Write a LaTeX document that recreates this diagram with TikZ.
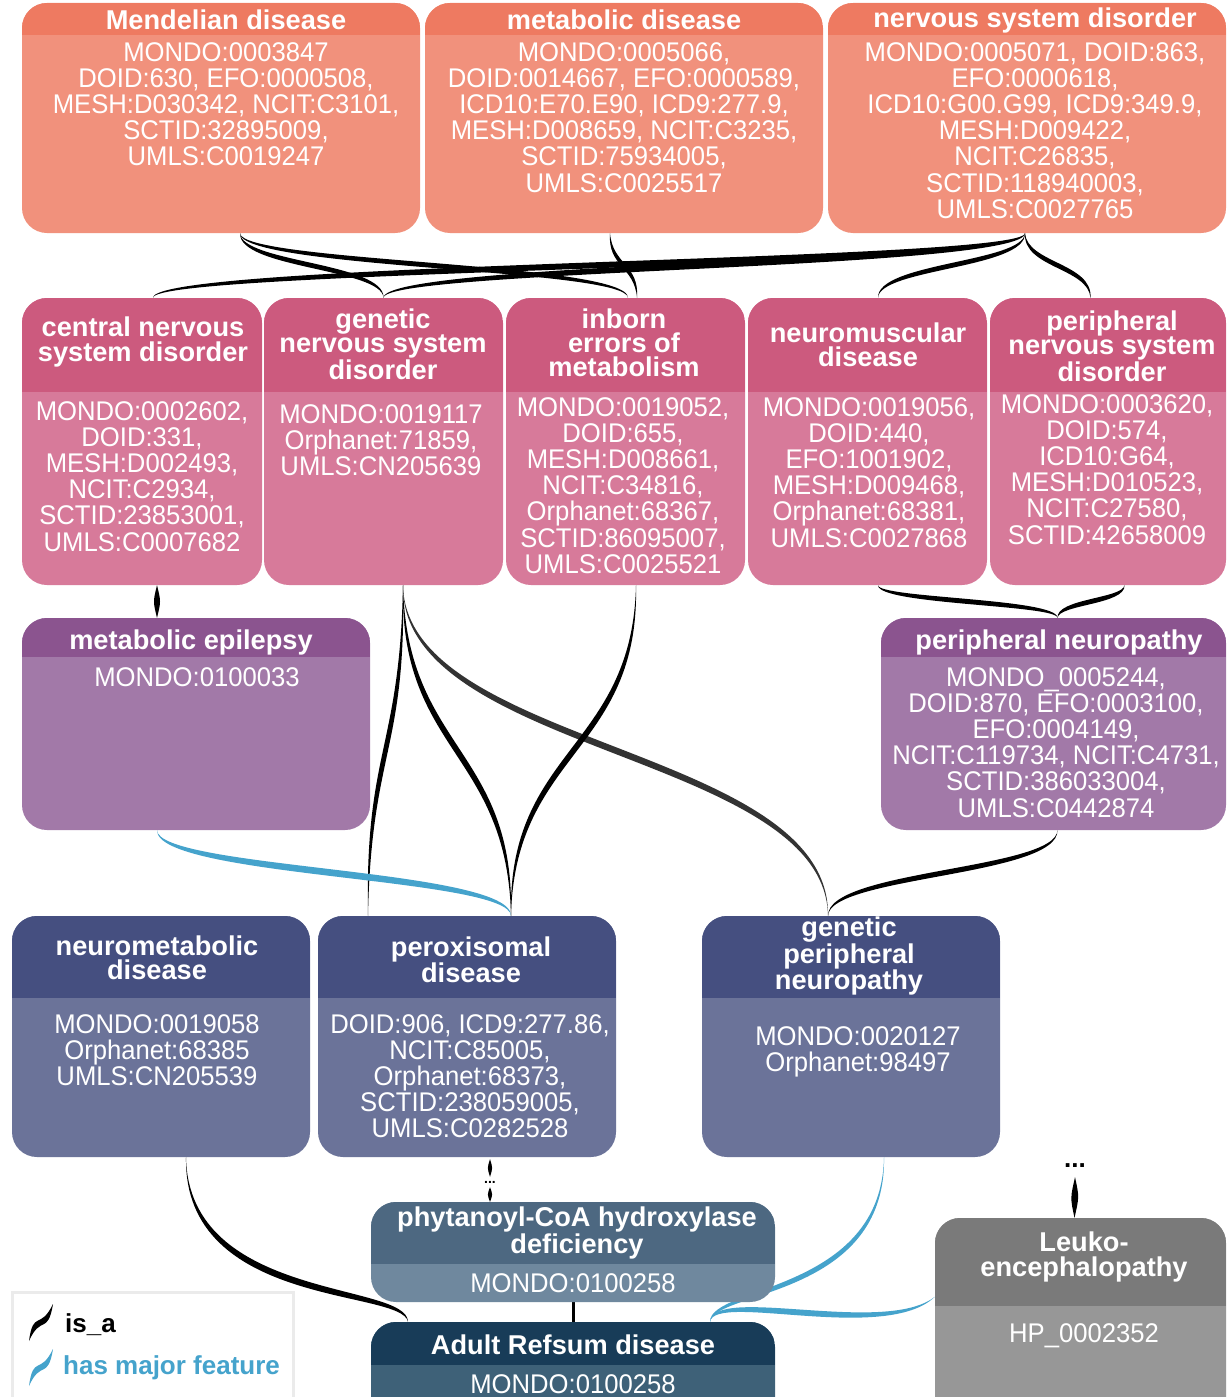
\documentclass[tikz,border=0pt]{standalone}
\usepackage{fontspec}
\setmainfont{Liberation Sans}
\newfontfamily\bodyf{Liberation Sans}[FakeStretch=0.95]
\usetikzlibrary{calc,fit}
\pgfdeclarelayer{bg}
\pgfsetlayers{bg,main}
\definecolor{sH}{HTML}{EE7A61}\definecolor{sB}{HTML}{F1917C}
\definecolor{pH}{HTML}{CC5A7E}\definecolor{pB}{HTML}{D77A9A}
\definecolor{vH}{HTML}{8B548F}\definecolor{vB}{HTML}{A279A8}
\definecolor{nH}{HTML}{454F80}\definecolor{nB}{HTML}{6B7399}
\definecolor{tH}{HTML}{4D6881}\definecolor{tB}{HTML}{6F889E}
\definecolor{dH}{HTML}{183C58}\definecolor{dB}{HTML}{3E6178}
\definecolor{gH}{HTML}{7A7A7A}\definecolor{gB}{HTML}{979797}
\definecolor{hmf}{HTML}{45A3CC}
\definecolor{dgray}{HTML}{333333}
\definecolor{lgbd}{HTML}{EBEBEB}
\tikzset{
 ttl/.style={text=white, font=\bfseries\fontsize{27.2}{24.2}\selectfont, align=center, inner sep=0pt},
 bdy/.style={text=white, font=\bodyf\fontsize{27}{26.2}\selectfont, align=center, inner sep=0pt, anchor=north},
 boxshape/.style={inner sep=0pt, rounded corners=25pt, fill=#1},
 isa/.style={fill=black},
 hmfl/.style={fill=hmf},
 gryl/.style={fill=dgray},
}
\newcommand\dbox[8]{%
 \node[boxshape=#8, fit={(#2,#3)(#4,#5)}] (#1) {};
 \begin{scope}
 \clip[rounded corners=25pt] (#2,#3) rectangle (#4,#5);
 \fill[#7] (#2,#3) rectangle (#4,#6);
 \end{scope}}
\newcommand\tlink[4][isa]{%
 \fill[#1] let \p1=#2, \p2=#3, \p3=($(\p1)!0.5!(\p2)$), \n1={atan2(\y2-\y1,\x2-\x1)} in
 (\p1) .. controls ($(\x1,\y3)+({\n1+90}:#4pt)$) and ($(\x2,\y3)+({\n1+90}:#4pt)$) .. (\p2)
 .. controls ($(\x2,\y3)+({\n1-90}:#4pt)$) and ($(\x1,\y3)+({\n1-90}:#4pt)$) .. (\p1) -- cycle;}
\newcommand\tcurve[6][isa]{%
 \fill[#1] let \p1=#2, \p2=#5, \n1={atan2(\y2-\y1,\x2-\x1)} in
 (\p1) .. controls ($#3+({\n1+90}:#6pt)$) and ($#4+({\n1+90}:#6pt)$) .. (\p2)
 .. controls ($#4+({\n1-90}:#6pt)$) and ($#3+({\n1-90}:#6pt)$) .. (\p1) -- cycle;}
\begin{document}
\begin{tikzpicture}[x=1pt,y=-1pt]
\path[use as bounding box] (0,0) rectangle (1227,1397);
\clip (0,0) rectangle (1227,1397);
% boxes
\dbox{mend}{22}{3}{420}{233}{35}{sH}{sB}
\dbox{metab}{425}{3}{823}{233}{35}{sH}{sB}
\dbox{nerv}{828}{3}{1226}{233}{35}{sH}{sB}
\dbox{cns}{22}{298}{262}{585}{392}{pH}{pB}
\dbox{gns}{264}{298}{503}{585}{392}{pH}{pB}
\dbox{iem}{506}{298}{745}{585}{392}{pH}{pB}
\dbox{nmd}{748}{298}{987}{585}{392}{pH}{pB}
\dbox{pns}{990}{298}{1226}{585}{392}{pH}{pB}
\dbox{mep}{22}{618}{370}{830}{657}{vH}{vB}
\dbox{pn}{881}{618}{1226}{830}{657}{vH}{vB}
\dbox{nmet}{12}{916}{310}{1157}{998}{nH}{nB}
\dbox{perox}{318}{916}{616}{1157}{998}{nH}{nB}
\dbox{gpn}{702}{916}{1000}{1157}{998}{nH}{nB}
\dbox{phy}{371}{1202}{775}{1302}{1264}{tH}{tB}
\dbox{ard}{371}{1322}{775}{1440}{1365}{dH}{dB}
\dbox{leuko}{935}{1218}{1226}{1440}{1306}{gH}{gB}
% titles
\node[ttl] (mend-t) at (226,20) {Mendelian disease};
\node[ttl] (metab-t) at (624,20) {metabolic disease};
\node[ttl] (nerv-t) at (1035,20) {nervous system disorder};
\node[ttl] (cns-t) at (143,342) {central nervous\\system disorder};
\node[ttl] (gns-t) at (383,344) {genetic\\nervous system\\disorder};
\node[ttl] (iem-t) at (624,343) {inborn\\errors of\\metabolism};
\node[ttl] (nmd-t) at (868,345) {neuromuscular\\disease};
\node[ttl] (pns-t) at (1112,346) {peripheral\\nervous system\\disorder};
\node[ttl] (mep-t) at (191,642) {metabolic epilepsy};
\node[ttl] (pn-t) at (1059,642) {peripheral neuropathy};
\node[ttl] (nmet-t) at (157,958) {neurometabolic\\disease};
\node[ttl] (perox-t) at (471,960) {peroxisomal\\disease};
\node[ttl] (gpn-t) at (849,956) {genetic\\peripheral\\neuropathy};
\node[ttl] (phy-t) at (577,1233) {phytanoyl-CoA hydroxylase\\deficiency};
\node[ttl] (ard-t) at (573,1345) {Adult Refsum disease};
\node[ttl] (leuko-t) at (1084,1257) {Leuko-\\encephalopathy};
% bodies
\node[bdy] (mend-b) at (226,42) {MONDO:0003847\\DOID:630, EFO:0000508,\\MESH:D030342, NCIT:C3101,\\SCTID:32895009,\\UMLS:C0019247};
\node[bdy] (metab-b) at (624,42) {MONDO:0005066,\\DOID:0014667, EFO:0000589,\\ICD10:E70.E90, ICD9:277.9,\\MESH:D008659, NCIT:C3235,\\SCTID:75934005,\\UMLS:C0025517};
\node[bdy] (nerv-b) at (1035,42) {MONDO:0005071, DOID:863,\\EFO:0000618,\\ICD10:G00.G99, ICD9:349.9,\\MESH:D009422,\\NCIT:C26835,\\SCTID:118940003,\\UMLS:C0027765};
\node[bdy] (cns-b) at (142,401) {MONDO:0002602,\\DOID:331,\\MESH:D002493,\\NCIT:C2934,\\SCTID:23853001,\\UMLS:C0007682};
\node[bdy] (gns-b) at (381,404) {MONDO:0019117\\Orphanet:71859,\\UMLS:CN205639};
\node[bdy] (iem-b) at (623,397) {MONDO:0019052,\\DOID:655,\\MESH:D008661,\\NCIT:C34816,\\Orphanet:68367,\\SCTID:86095007,\\UMLS:C0025521};
\node[bdy] (nmd-b) at (869,397) {MONDO:0019056,\\DOID:440,\\EFO:1001902,\\MESH:D009468,\\Orphanet:68381,\\UMLS:C0027868};
\node[bdy] (pns-b) at (1107,394) {MONDO:0003620,\\DOID:574,\\ICD10:G64,\\MESH:D010523,\\NCIT:C27580,\\SCTID:42658009};
\node[bdy] (mep-b) at (197,667) {MONDO:0100033};
\node[bdy] (pn-b) at (1056,667) {MONDO\_0005244,\\DOID:870, EFO:0003100,\\EFO:0004149,\\NCIT:C119734, NCIT:C4731,\\SCTID:386033004,\\UMLS:C0442874};
\node[bdy] (nmet-b) at (157,1014) {MONDO:0019058\\Orphanet:68385\\UMLS:CN205539};
\node[bdy] (perox-b) at (470,1014) {DOID:906, ICD9:277.86,\\NCIT:C85005,\\Orphanet:68373,\\SCTID:238059005,\\UMLS:C0282528};
\node[bdy] (gpn-b) at (858,1026) {MONDO:0020127\\Orphanet:98497};
\node[bdy] (phy-b) at (573,1273) {MONDO:0100258};
\node[bdy] (ard-b) at (573,1374) {MONDO:0100258};
\node[bdy] (leuko-b) at (1084,1323) {HP\_0002352};
% ellipsis nodes
\node[font=\bfseries\fontsize{14}{14}\selectfont, inner sep=0pt] (pd) at (490,1182) {...};
\node[font=\bfseries\fontsize{26}{26}\selectfont, inner sep=0pt] (ld) at (1075,1166) {...};
% legend
\node[draw=lgbd, line width=3pt, fill=white, inner sep=0pt, fit={(12,1292)(293,1430)}] (legend) {};
\node[anchor=west, inner sep=0pt, font=\bfseries\fontsize{26}{26}\selectfont] (lisa) at (65,1325) {is\_a};
\node[anchor=west, inner sep=0pt, text=hmf, font=\bfseries\fontsize{26}{26}\selectfont] (lhmf) at (63,1368) {has major feature};
\tcurve{(29,1341)}{(37,1312)}{(44,1333)}{(53,1304)}{4.5}
\tcurve[hmfl]{(29,1386)}{(37,1357)}{(44,1378)}{(53,1349)}{4.5}
% connectors
\begin{pgfonlayer}{bg}
\fill[white] (0,0) rectangle (1227,1397);
\tlink{($(mend.south)+(19,0)$)}{(gns.north)}{3.3}
\tlink{($(mend.south)+(19,0)$)}{($(iem.north)+(2.5,0)$)}{3.3}
\tlink{($(metab.south)+(-14,0)$)}{($(iem.north)+(11.5,0)$)}{2.7}
\tlink{($(nerv.south)+(-2,0)$)}{($(cns.north)+(11,0)$)}{4}
\tlink{($(nerv.south)+(-2,0)$)}{(gns.north)}{4}
\tlink{($(nerv.south)+(-2,0)$)}{($(nmd.north)+(10.5,0)$)}{3.3}
\tlink{($(nerv.south)+(-2,0)$)}{($(pns.north)+(-17.5,0)$)}{3.3}
\tlink{($(cns.south)+(15,0)$)}{($(mep.north)+(-39,0)$)}{4}
\tlink{($(nmd.south)+(10.5,0)$)}{($(pn.north)+(4,0)$)}{3.3}
\tlink{($(pns.south)+(16.5,0)$)}{($(pn.north)+(4,0)$)}{3.3}
\tlink{($(gns.south)+(19.5,0)$)}{($(perox.north)+(-99,0)$)}{3.3}
\tlink{($(gns.south)+(19.5,0)$)}{($(perox.north)+(44,0)$)}{4}
\tlink[gryl]{($(gns.south)+(19.5,0)$)}{($(gpn.north)+(-23,0)$)}{4.5}
\tlink{($(iem.south)+(10.5,0)$)}{($(perox.north)+(44,0)$)}{4}
\tlink[hmfl]{($(mep.south)+(-39,0)$)}{($(perox.north)+(44,0)$)}{4.5}
\tlink{($(pn.south)+(4,0)$)}{($(gpn.north)+(-23,0)$)}{3.5}
\tcurve{($(nmet.south)+(25,0)$)}{(186,1305)}{(405,1285)}{($(ard.north)+(-165,0)$)}{4.5}
\tlink{($(perox.south)+(23,2)$)}{($(pd.north)+(0,-4)$)}{2.8}
\tlink{($(pd.south)+(0,4)$)}{($(phy.north)+(-83,0)$)}{2.8}
\draw[line width=3pt] (phy.south) -- (ard.north);
\tcurve[hmfl]{($(gpn.south)+(33,0)$)}{(884,1295)}{(712,1288)}{($(ard.north)+(137,0)$)}{3.5}
\tcurve[hmfl]{($(leuko.north west)+(0,79)$)}{(885,1340)}{(714,1288)}{($(ard.north)+(137,0)$)}{4}
\tlink{($(ld.south)+(0,9)$)}{($(leuko.north)+(-6,0)$)}{4.5}
\end{pgfonlayer}
\end{tikzpicture}
\end{document}
